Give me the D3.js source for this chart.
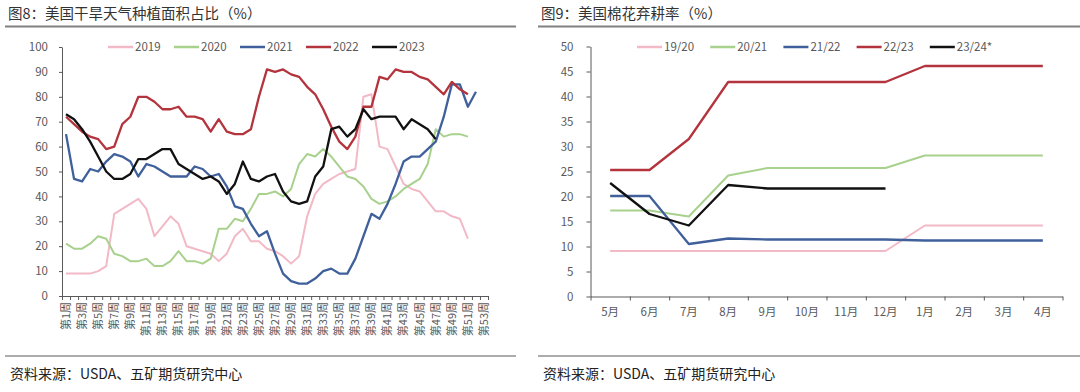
<!DOCTYPE html>
<html>
<head>
<meta charset="utf-8">
<script src="https://cdn.jsdelivr.net/npm/d3@7/dist/d3.min.js"></script>
<style>
  body { margin: 0; background: #fff; }
  svg text { font-family: "Noto Sans CJK SC", "Noto Sans", sans-serif; }
</style>
</head>
<body>
<svg id="chart" width="1080" height="392"></svg>
<script>
// ---- chart 8 data (weekly, % of planted area in drought) ----
const weeks = d3.range(1, 54).map((w) => "第" + w + "周");
const leftTicks = [0, 10, 20, 30, 40, 50, 60, 70, 80, 90, 100];
const leftNames = ["2019", "2020", "2021", "2022", "2023"];
const y2019 = [9, 9, 9, 9, 10, 12, 33, 35, 37, 39, 35, 24, 28, 32, 29, 20, 19, 18, 17, 14,
  17, 24, 27, 22, 22, 19, 18, 16, 13, 16, 32, 41, 45, 47, 49, 50, 51, 80, 81, 60,
  59, 52, 45, 43, 42, 38, 34, 34, 32, 31, 23];
const y2020 = [21, 19, 19, 21, 24, 23, 17, 16, 14, 14, 15, 12, 12, 14, 18, 14, 14, 13, 15, 27,
  27, 31, 30, 35, 41, 41, 42, 40, 43, 53, 57, 56, 59, 56, 52, 48, 47, 44, 39, 37,
  38, 40, 43, 45, 47, 53, 67, 64, 65, 65, 64];
const y2021 = [65, 47, 46, 51, 50, 54, 57, 56, 54, 48, 53, 52, 50, 48, 48, 48, 52, 51, 48, 49,
  44, 36, 35, 29, 24, 26, 17, 9, 6, 5, 5, 7, 10, 11, 9, 9, 15, 24, 33, 31,
  37, 45, 54, 56, 56, 59, 62, 72, 85, 85, 76, 82];
const y2022 = [72, 69, 66, 64, 63, 59, 60, 69, 72, 80, 80, 78, 75, 75, 76, 72, 72, 71, 66, 71,
  66, 65, 65, 67, 80, 91, 90, 91, 89, 88, 84, 81, 75, 68, 62, 59, 64, 76, 76, 88,
  87, 91, 90, 90, 88, 87, 84, 81, 86, 83, 81];
const y2023 = [73, 71, 67, 62, 56, 50, 47, 47, 49, 55, 55, 57, 59, 59, 53, 51, 49, 47, 48, 46,
  41, 45, 54, 47, 46, 48, 49, 42, 38, 37, 38, 48, 52, 67, 68, 64, 67, 75, 71, 72,
  72, 72, 67, 71, 69, 67, 63];

// ---- chart 9 data (monthly abandonment rate, %) ----
const months = ["5月", "6月", "7月", "8月", "9月", "10月", "11月", "12月", "1月", "2月", "3月", "4月"];
const rightTicks = [0, 5, 10, 15, 20, 25, 30, 35, 40, 45, 50];
const rightNames = ["19/20", "20/21", "21/22", "22/23", "23/24*"];
const r1920 = [9.1, 9.1, 9.1, 9.1, 9.1, 9.1, 9.1, 9.1, 14.2, 14.2, 14.2, 14.2];
const r2021 = [17.2, 17.2, 16, 24.2, 25.7, 25.7, 25.7, 25.7, 28.2, 28.2, 28.2, 28.2];
const r2122 = [20.1, 20.1, 10.5, 11.6, 11.4, 11.4, 11.4, 11.4, 11.2, 11.2, 11.2, 11.2];
const r2223 = [25.3, 25.3, 31.5, 42.9, 42.9, 42.9, 42.9, 42.9, 46.1, 46.1, 46.1, 46.1];
const r2324 = [22.7, 16.5, 14.2, 22.3, 21.6, 21.6, 21.6, 21.6];

const colors = ["#f2b9c6", "#a9d18e", "#40609c", "#b3343d", "#111111"];
const axisColor = "#595959";
const labelColor = "#595959";

let svg = d3.select("#chart");

function drawPanel(opts) {
  let g = svg.append("g");

  //Title + rule under it
  g.append("text")
    .attr("x", opts.frame[0] + 3)
    .attr("y", 19)
    .attr("font-size", 14.5)
    .attr("fill", "#333")
    .text(opts.title);
  g.append("line")
    .attr("x1", opts.frame[0]).attr("x2", opts.frame[1])
    .attr("y1", 26.5).attr("y2", 26.5)
    .attr("stroke", "#808080").attr("stroke-width", 2);

  //Footer rule + source
  g.append("line")
    .attr("x1", opts.frame[0]).attr("x2", opts.frame[1])
    .attr("y1", 356).attr("y2", 356)
    .attr("stroke", "#909090").attr("stroke-width", 1.5);
  g.append("text")
    .attr("x", opts.frame[0] + 5)
    .attr("y", 379)
    .attr("font-size", 14)
    .attr("fill", "#222")
    .text("资料来源：USDA、五矿期货研究中心");

  //Scales
  let xScale = d3.scaleLinear()
    .domain([0, opts.cats.length])
    .range([opts.left, opts.right]);
  let yScale = d3.scaleLinear()
    .domain([0, opts.yMax])
    .range([opts.bottom, opts.top]);

  //Y axis
  let yAxis = d3.axisLeft(yScale)
    .tickValues(opts.yTicks)
    .tickSize(opts.yTickSize)
    .tickSizeOuter(0)
    .tickPadding(opts.yPad);
  let yG = g.append("g")
    .attr("transform", "translate(" + opts.left + ",0)")
    .call(yAxis);
  yG.select(".domain").attr("stroke", axisColor);
  yG.selectAll(".tick line").attr("stroke", axisColor);
  yG.selectAll("text").attr("font-size", 11.5).attr("fill", labelColor);

  //X axis: ticks on category boundaries
  let xAxis = d3.axisBottom(xScale)
    .tickValues(d3.range(0, opts.cats.length + 1))
    .tickSize(4)
    .tickSizeOuter(0)
    .tickFormat("");
  let xG = g.append("g")
    .attr("transform", "translate(0," + opts.bottom + ")")
    .call(xAxis);
  xG.select(".domain").attr("stroke", axisColor);
  xG.selectAll(".tick line").attr("stroke", axisColor);

  //X labels
  let labs = opts.cats
    .map((c, i) => ({ c: c, i: i }))
    .filter((d) => d.i % opts.labelEvery === 0);
  if (opts.rotate) {
    g.selectAll("text.xlab")
      .data(labs)
      .enter()
      .append("text")
      .attr("class", "xlab")
      .attr("transform", (d) => `translate(${xScale(d.i + 0.5)},${opts.bottom + 6}) rotate(-90)`)
      .attr("dy", "0.35em")
      .attr("text-anchor", "end")
      .attr("font-size", 11)
      .attr("fill", labelColor)
      .text((d) => d.c);
  } else {
    g.selectAll("text.xlab")
      .data(labs)
      .enter()
      .append("text")
      .attr("class", "xlab")
      .attr("x", (d) => xScale(d.i + 0.5))
      .attr("y", opts.bottom + 19)
      .attr("text-anchor", "middle")
      .attr("font-size", 11.5)
      .attr("fill", labelColor)
      .text((d) => d.c);
  }

  //Lines
  let line = d3.line()
    .x((d, i) => xScale(i + 0.5))
    .y((d) => yScale(d));
  g.selectAll("path.series")
    .data(opts.series)
    .enter()
    .append("path")
    .attr("class", "series")
    .attr("d", (d) => line(d))
    .attr("fill", "none")
    .attr("stroke", (d, i) => colors[i])
    .attr("stroke-width", (d, i) => (i < 2 ? 2 : 2.3))
    .attr("stroke-linejoin", "round");

  //Legend
  let leg = g.selectAll("g.leg")
    .data(opts.names)
    .enter()
    .append("g")
    .attr("class", "leg")
    .attr("transform", (d, i) => `translate(${opts.legX + i * opts.legStep},${opts.legY})`);
  leg.append("line")
    .attr("x1", -27).attr("x2", -2)
    .attr("stroke", (d, i) => colors[i])
    .attr("stroke-width", 2.5);
  leg.append("text")
    .attr("x", 0)
    .attr("dy", "0.35em")
    .attr("font-size", 11.5)
    .attr("fill", labelColor)
    .text((d) => d);
}

drawPanel({
  title: "图8：美国干旱天气种植面积占比（%）",
  frame: [5, 516],
  left: 62, right: 488, top: 47, bottom: 296,
  cats: weeks, labelEvery: 2, rotate: true,
  yMax: 100, yTicks: leftTicks, yTickSize: 3, yPad: 11,
  series: [y2019, y2020, y2021, y2022, y2023],
  names: leftNames, legX: 135, legStep: 66, legY: 47,
});

drawPanel({
  title: "图9：美国棉花弃耕率（%）",
  frame: [538, 1080],
  left: 590.5, right: 1062.5, top: 46.5, bottom: 296.5,
  cats: months, labelEvery: 1, rotate: false,
  yMax: 50, yTicks: rightTicks, yTickSize: 4, yPad: 13,
  series: [r1920, r2021, r2122, r2223, r2324],
  names: rightNames, legX: 664, legStep: 73.2, legY: 47,
});
</script>
</body>
</html>
